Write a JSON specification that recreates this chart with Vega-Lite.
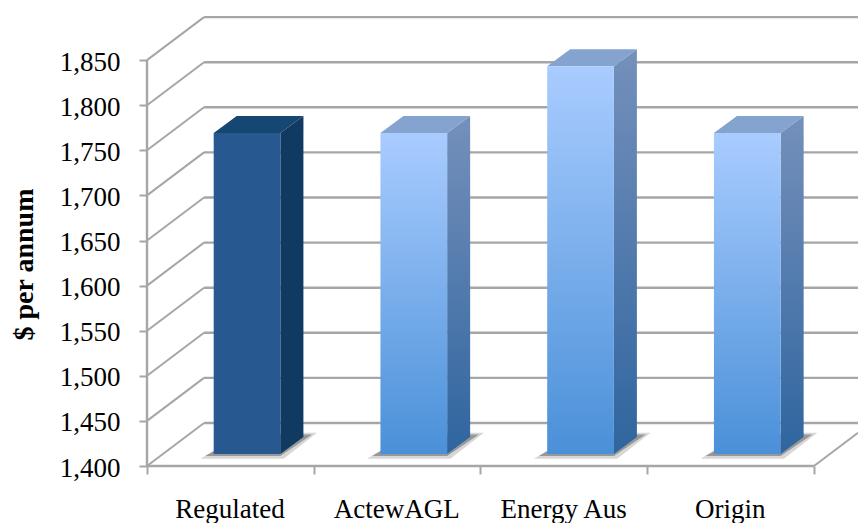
{"$schema":"https://vega.github.io/schema/vega-lite/v6.json","width":711,"height":449,"autosize":{"type":"none"},"padding":{"left":147,"top":17,"right":0,"bottom":57},"background":"white","datasets":{"bars":[{"name":"Regulated","idx":0,"value":1756},{"name":"ActewAGL","idx":1,"value":1756},{"name":"Energy Aus","idx":2,"value":1830},{"name":"Origin","idx":3,"value":1756}],"ticks":[{"tick":1400},{"tick":1450},{"tick":1500},{"tick":1550},{"tick":1600},{"tick":1650},{"tick":1700},{"tick":1750},{"tick":1800},{"tick":1850}]},"config":{"view":{"stroke":null},"axis":{"grid":false,"domain":false,"tickColor":"#a6a6a6","tickWidth":2,"tickSize":8,"labelColor":"#000000","labelFont":"Liberation Serif","labelFontSize":27,"titleFont":"Liberation Serif"}},"resolve":{"axis":{"x":"independent"}},"layer":[{"data":{"name":"ticks"},"transform":[{"calculate":"datum.tick+47.7","as":"yb"},{"calculate":"0.342","as":"xa"},{"calculate":"4.264","as":"xb"}],"mark":{"type":"rule","color":"#a6a6a6","strokeWidth":2.4},"encoding":{"x":{"field":"xa","type":"quantitative","scale":{"domain":[0,4.264],"nice":false,"zero":false},"axis":null},"x2":{"field":"xb"},"y":{"field":"yb","type":"quantitative","scale":{"domain":[1400,1897.8],"nice":false,"zero":false},"axis":{"values":[1400,1450,1500,1550,1600,1650,1700,1750,1800,1850],"format":",.0f","title":"$ per annum","labelPadding":19,"labelOffset":2,"titleFontSize":28,"titleFontWeight":"bold","titleColor":"#000000","titleX":-115,"titleY":247,"titleBaseline":"alphabetic"}}}},{"data":{"name":"ticks"},"transform":[{"calculate":"datum.tick+47.7","as":"yb"},{"calculate":"0","as":"xa"},{"calculate":"0.342","as":"xb"}],"mark":{"type":"rule","color":"#a6a6a6","strokeWidth":2},"encoding":{"x":{"field":"xa","type":"quantitative","axis":null},"x2":{"field":"xb"},"y":{"field":"tick","type":"quantitative"},"y2":{"field":"yb"}}},{"data":{"name":"ticks"},"transform":[{"filter":"datum.tick==1400"},{"calculate":"0","as":"xa"},{"calculate":"4","as":"xb"}],"mark":{"type":"rule","color":"#a6a6a6","strokeWidth":2.4},"encoding":{"x":{"field":"xa","type":"quantitative","axis":{"values":[0,1,2,3,4],"labels":false,"title":null,"orient":"bottom"}},"x2":{"field":"xb"},"y":{"field":"tick","type":"quantitative"}}},{"data":{"name":"ticks"},"transform":[{"filter":"datum.tick==1400"},{"calculate":"0","as":"xa"},{"calculate":"1850","as":"ye"}],"mark":{"type":"rule","color":"#a6a6a6","strokeWidth":2.4},"encoding":{"x":{"field":"xa","type":"quantitative","axis":null},"y":{"field":"tick","type":"quantitative"},"y2":{"field":"ye"}}},{"data":{"name":"ticks"},"transform":[{"filter":"datum.tick==1400"},{"calculate":"4","as":"xa"},{"calculate":"4.264","as":"xb"},{"calculate":"1436.8","as":"ye"}],"mark":{"type":"rule","color":"#a6a6a6","strokeWidth":2},"encoding":{"x":{"field":"xa","type":"quantitative","axis":null},"x2":{"field":"xb"},"y":{"field":"tick","type":"quantitative"},"y2":{"field":"ye"}}},{"data":{"name":"bars"},"transform":[{"calculate":"[0,1]","as":"t"},{"flatten":["t"]},{"calculate":"datum.idx+0.32+datum.t*0.26","as":"xa"},{"calculate":"datum.idx+0.82+datum.t*0.2","as":"xb"},{"calculate":"1408+datum.t*29","as":"yy"}],"mark":{"type":"area","orient":"horizontal","color":"#9a9a9a","opacity":0.4},"encoding":{"x":{"field":"xa","type":"quantitative","axis":null},"x2":{"field":"xb"},"y":{"field":"yy","type":"quantitative"},"detail":{"field":"name"}}},{"data":{"name":"bars"},"transform":[{"calculate":"[0,1]","as":"t"},{"flatten":["t"]},{"calculate":"datum.idx+0.35+datum.t*0.22","as":"xa"},{"calculate":"datum.idx+0.8+datum.t*0.19","as":"xb"},{"calculate":"1411+datum.t*24","as":"yy"}],"mark":{"type":"area","orient":"horizontal","color":"#6e6e6e","opacity":0.6},"encoding":{"x":{"field":"xa","type":"quantitative","axis":null},"x2":{"field":"xb"},"y":{"field":"yy","type":"quantitative"},"detail":{"field":"name"}}},{"data":{"name":"bars"},"transform":[{"calculate":"[0,1]","as":"t"},{"flatten":["t"]},{"calculate":"datum.idx+0.8+datum.t*0.138","as":"xa"},{"calculate":"1413.3+datum.t*18.8","as":"yl"},{"calculate":"datum.value+13.3+datum.t*18.8","as":"yh"}],"mark":{"type":"area","orient":"vertical"},"encoding":{"x":{"field":"xa","type":"quantitative","axis":null},"y":{"field":"yh","type":"quantitative"},"y2":{"field":"yl"},"detail":{"field":"name"},"fill":{"condition":{"test":"datum.name=='Regulated'","value":"#103a62"},"value":{"gradient":"linear","x1":0,"y1":0,"x2":0,"y2":1,"stops":[{"offset":0,"color":"#7590bb"},{"offset":1,"color":"#2f659f"}]}}}},{"data":{"name":"bars"},"transform":[{"calculate":"[0,1]","as":"t"},{"flatten":["t"]},{"calculate":"datum.idx+0.4+datum.t*0.138","as":"xa"},{"calculate":"datum.idx+0.8+datum.t*0.138","as":"xb"},{"calculate":"datum.value+13.3+datum.t*18.8","as":"yy"}],"mark":{"type":"area","orient":"horizontal"},"encoding":{"x":{"field":"xa","type":"quantitative","axis":null},"x2":{"field":"xb"},"y":{"field":"yy","type":"quantitative"},"detail":{"field":"name"},"fill":{"condition":{"test":"datum.name=='Regulated'","value":"#164672"},"value":"#84a3cf"}}},{"data":{"name":"bars"},"transform":[{"calculate":"datum.idx+0.4","as":"xa"},{"calculate":"datum.idx+0.8","as":"xb"},{"calculate":"1413.3","as":"yl"},{"calculate":"datum.value+13.3","as":"yh"}],"mark":{"type":"rect"},"encoding":{"x":{"field":"xa","type":"quantitative","axis":null},"x2":{"field":"xb"},"y":{"field":"yh","type":"quantitative"},"y2":{"field":"yl"},"fill":{"condition":{"test":"datum.name=='Regulated'","value":"#27588f"},"value":{"gradient":"linear","x1":0,"y1":0,"x2":0,"y2":1,"stops":[{"offset":0,"color":"#a9ccff"},{"offset":1,"color":"#4a90d8"}]}}}},{"data":{"name":"bars"},"transform":[{"calculate":"datum.idx+0.495","as":"xm"}],"mark":{"type":"text","opacity":0},"encoding":{"x":{"field":"xm","type":"quantitative","axis":{"values":[0.495,1.495,2.495,3.495],"labelExpr":"['Regulated','ActewAGL','Energy Aus','Origin'][floor(datum.value)]","ticks":false,"title":null,"labelPadding":30,"orient":"bottom"}},"y":{"datum":1400,"type":"quantitative"},"text":{"field":"name"}}}]}
